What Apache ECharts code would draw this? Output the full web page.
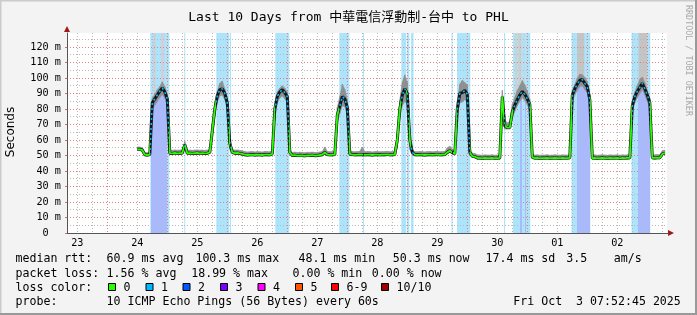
<!DOCTYPE html>
<html><head><meta charset="utf-8">
<script src="https://cdn.jsdelivr.net/npm/echarts@6/dist/echarts.min.js"></script>
<style>html,body{margin:0;padding:0;background:#f3f3f3;overflow:hidden}#c{width:697px;height:315px}</style>
</head><body><div id="c"></div>
<script>
// ---- data (x values are hours since 2025-09-23 00:00 local) ----
const T0 = 7 + 52/60 + 45/3600;          // Sep 23 07:52:45
const T1 = T0 + 240;                     // Oct 3 07:52:45
const firstHour = 36;                    // first sample: Sep 24 12:00, one sample per hour
const median = [
  54,54,53.5,50.5,50.3,50.6,
  84,86.5,89,91.5,93.5,91,86.5,
  51.5,51.3,51.6,51.4,51.5,51.6,57,51.4,51.5,51.3,51.5,51.6,51.4,51.5,51.3,51.5,52,
  66,80,88.5,92.5,93,90,84,58,52,
  51.5,51.6,51.3,51,50.5,50.3,50.4,50.6,50.3,50.5,50.4,50.3,50.6,50.5,50.4,51,
  80,88,91,92.4,90.5,88,52,
  50,50.2,49.9,50.1,50,49.8,50.1,50,50.2,49.9,50,50.3,50.5,52,50.6,50.4,50.5,50.6,
  76,82,88,86.5,81,51,
  50.6,50.4,50.5,50.7,50.5,50.4,50.6,50.5,50.3,50.5,50.6,50.4,50.5,50.5,50.7,50.4,50.5,50.6,
  60,
  80,89,93,90,60,52,
  50.5,50.4,50.6,50.5,50.3,50.5,50.6,50.4,50.5,50.7,50.4,50.5,50.6,52,53,52,51,
  80,90,90.5,92,89.5,52,
  49.5,49.3,48.4,48.3,48.2,48.4,48.3,48.3,48.5,48.2,48.3,48.4,
  88,69,68,68,78,82.5,86,89,91.3,89.5,86.5,83,
  48.8,48.3,48.4,48.2,48.3,48.3,48.5,48.2,48.3,48.4,48.3,48.2,48.4,48.3,48.3,48.5,
  89,93,96,98.5,99,96.5,94.5,86,
  48.3,48.4,48.2,48.3,48.5,48.3,48.2,48.4,48.3,48.3,48.5,48.2,48.4,48.3,48.4,48.5,
  82,88,91.3,94,96.5,93,89,84,
  48.5,48.4,48.6,48.5,51,51.5
];
const smokeUp = [
  1.5,1.5,1.5,1.5,1.5,1.5,
  3,3,3.5,3,4,3.5,3,
  2,2,2,2,2,2,2,2,2,2,2,2,2,2,2,2,2,
  4,4,3,4,5,3,3,3,2,
  2,2,2,2,2,2,2,2,2,2,2,2,2,2,2,2,
  3,3,2.5,2.5,3,3,2,
  2,2,2,2,2,2,2,2,2,2,2,2,2,3.5,2,2,2,2,
  5,6,8,6,5,2,
  2,2,2,2,5,2,2,2,2,2,2,2,2,2,2,2,2,2,
  4,
  6,8,9,7,8,2,
  2,2,2,2,2,2,2,2,2,2,2,2,2,3,3,2,2,
  5,6,8,5,6,2,
  2,2,2,2,2,2,2,2,2,2,2,2,
  4,4,3,4,5,5,6,6,7,6,5,3,
  2,2,2,2,2,2,2,2,2,2,2,2,2,2,2,2,
  3,3,4,4,3,4,3,3,
  2,2,2,2,2,2,2,2,2,2,2,2,2,2,2,2,
  3,3,4,5,4,4,3,3,
  2,2,2,2,2,2
];
const smokeDown = [
  0.8,0.8,0.8,0.8,0.8,0.8,
  4,4,4,4,4,4,4,
  0.8,0.8,0.8,0.8,0.8,0.8,3,0.8,0.8,0.8,0.8,0.8,0.8,0.8,0.8,0.8,0.8,
  6,5,4,4,4,4,4,4,1,
  0.8,0.8,0.8,0.8,0.8,0.8,0.8,0.8,0.8,0.8,0.8,0.8,0.8,0.8,0.8,0.8,
  5,4,4,4,4,4,1,
  0.8,0.8,0.8,0.8,0.8,0.8,0.8,0.8,0.8,0.8,0.8,0.8,0.8,0.8,0.8,0.8,0.8,0.8,
  5,5,6,5,5,1,
  0.8,0.8,0.8,0.8,0.8,0.8,0.8,0.8,0.8,0.8,0.8,0.8,0.8,0.8,0.8,0.8,0.8,0.8,
  5,
  6,7,8,7,6,1,
  0.8,0.8,0.8,0.8,0.8,0.8,0.8,0.8,0.8,0.8,0.8,0.8,0.8,1,1,1,0.8,
  5,6,6,6,5,1,
  0.8,0.8,0.8,0.8,0.8,0.8,0.8,0.8,0.8,0.8,0.8,0.8,
  5,2,1,1,4,4,4,4,4,4,4,4,
  0.8,0.8,0.8,0.8,0.8,0.8,0.8,0.8,0.8,0.8,0.8,0.8,0.8,0.8,0.8,0.8,
  4,4,4,4,4,4,4,4,
  0.8,0.8,0.8,0.8,0.8,0.8,0.8,0.8,0.8,0.8,0.8,0.8,0.8,0.8,0.8,0.8,
  4,4,4,4,4,4,4,4,
  0.8,0.8,0.8,0.8,0.8,0.8
];
// periods with packet loss (hours): light-blue background
const lossBands = [[41.2,48.8],[54.8,55.2],[67.6,72.8],[73.1,73.5],[91.2,96.8],[116.8,120.8],[126.3,126.7],
  [141.6,143.6],[143.9,144.8],[145.5,146.5],[161.7,162.1],[163.9,169.2],[182.7,183.1],[186.3,193.2],
  [209.7,217.2],[233.7,241.2]];
// periods with 2/10 loss: fill under the median
const loss2Zones = [[41.6,48.0],[189.2,189.8],[191.2,191.5],[211.9,217.2],[236.3,241.2]];
// smoke reaching the top inside loss periods: [from, to, lowest value, colour]
const grayTops = [[42.3,43.3,86,'#cbd0dc'],[45.5,46.8,93,'#cfd0dc'],[187.2,188.0,88,'#cfcfcf'],[188.4,189.6,90,'#cdcdcd'],
  [190.4,190.8,92,'#d2d2d2'],[211.9,214.8,60,'#c4c4c4'],[236.5,239.9,60,'#c4c4c4']];
const dayLabels = ['23','24','25','26','27','28','29','30','01','02'];
const dayLabelHours = [12,36,60,84,108,132,156,180,204,228];
const midnightHours = [24,48,72,96,120,144,168,192,216,240];
const quarterHours = [12,18,30,36,42,54,60,66,78,84,90,102,108,114,126,132,138,150,156,162,174,180,186,198,204,210,222,228,234,246];
const yMajor = [0,10,20,30,40,50,60,70,80,90,100,110,120];
const yMinor = [5,15,25,35,45,55,65,75,85,95,105,115,125];
const yMax = 129;
const rttLabel = 'median rtt:';
const rttStats = ['60.9 ms avg','100.3 ms max','48.1 ms min','50.3 ms now','17.4 ms sd','3.5','am/s'];
const lossLabel = 'packet loss:';
const lossStats = ['1.56 % avg','18.99 % max','0.00 % min','0.00 % now'];
const lossColorLabel = 'loss color:';
const lossNames = ['0','1','2','3','4','5','6-9','10/10'];
const lossColors = ['#26ff00','#00b8ff','#0059ff','#7e00ff','#ff00ff','#ff5500','#ff0000','#a10000'];
const probeLabel = 'probe:';
const probeText = '10 ICMP Echo Pings (56 Bytes) every 60s';
const stamp = 'Fri Oct  3 07:52:45 2025';
const titleText = 'Last 10 Days from 中華電信浮動制-台中 to PHL';

// ---- layout ----
const rttX = [106.6,195.4,298.5,392.8,485.5,566.2,613.8];
const lossX = [106.6,191.2,292.5,371.8];
const swatchX = [108,145.5,182.5,220,257.5,295,331,381];
const MONO = '"DejaVu Sans Mono","Noto Sans CJK TC",monospace';
const LEG = '11.6px ' + MONO;

const hours = median.map((_, i) => firstHour + i);
const medPts = hours.map((h, i) => [h, median[i]]);
const smokeHi = median.map((m, i) => m + smokeUp[i]);
const smokeLo = median.map((m, i) => m - smokeDown[i]);
// one quad per interval: [x0, hi0, lo0, x1, hi1, lo1]
const smokeSegs = hours.slice(0, -1).map((h, i) => [h, smokeHi[i], smokeLo[i], hours[i + 1], smokeHi[i + 1], smokeLo[i + 1]]);
const pieces = (zones, color) => zones.map(z => ({gte: z[0], lt: z[1], color}));

const chart = echarts.init(document.getElementById('c'), null, {renderer: 'canvas'});
const txt = (text, x, y, extra) => Object.assign({type: 'text', x, y, silent: true,
  style: Object.assign({text, font: LEG, fill: '#000', align: 'left', verticalAlign: 'middle'}, extra || {})});

const graphic = [
  {type: 'rect', shape: {x: 0, y: 0, width: 697, height: 315}, style: {fill: '#f3f3f3'}, silent: true, z: -10},
  {type: 'line', shape: {x1: 0, y1: 0.5, x2: 697, y2: 0.5}, style: {stroke: '#cbcbcb', lineWidth: 2}, silent: true},
  {type: 'line', shape: {x1: 0.5, y1: 0, x2: 0.5, y2: 315}, style: {stroke: '#cbcbcb', lineWidth: 2}, silent: true},
  {type: 'line', shape: {x1: 0, y1: 314, x2: 697, y2: 314}, style: {stroke: '#999', lineWidth: 2}, silent: true},
  {type: 'line', shape: {x1: 696, y1: 0, x2: 696, y2: 315}, style: {stroke: '#999', lineWidth: 2}, silent: true},
  {type: 'polygon', shape: {points: [[64, 32], [70, 32], [67, 26]]}, style: {fill: '#a01818'}, silent: true, z: 50},
  {type: 'polygon', shape: {points: [[668, 230], [668, 236], [674, 233]]}, style: {fill: '#a01818'}, silent: true, z: 50},
  {type: 'line', shape: {x1: 667, y1: 233.5, x2: 669, y2: 233.5}, style: {stroke: '#555', lineWidth: 1}, silent: true, z: 50},
  txt('Seconds', 11, 132, {font: '12px "DejaVu Sans"', align: 'center'}),
  txt('RRDTOOL / TOBI OETIKER', 688, 5, {font: '8.4px "DejaVu Sans Mono"', fill: '#a8a8a8'}),
  txt(rttLabel, 15.5, 259), txt(lossLabel, 15.5, 273.5), txt(lossColorLabel, 15.5, 287.5), txt(probeLabel, 15.5, 301.5),
  txt(probeText, 106.6, 301.5), txt(stamp, 680.8, 301.5, {align: 'right'})
];
graphic[8].rotation = Math.PI / 2;
graphic[9].rotation = -Math.PI / 2;
rttStats.forEach((s, i) => graphic.push(txt(s, rttX[i], 259)));
lossStats.forEach((s, i) => graphic.push(txt(s, lossX[i], 273.5)));
lossNames.forEach((s, i) => {
  graphic.push({type: 'rect', shape: {x: swatchX[i] + 0.5, y: 283.5, width: 7, height: 7},
    style: {fill: lossColors[i], stroke: '#000', lineWidth: 1}, silent: true});
  graphic.push(txt(s, swatchX[i] + 15.5, 287.5));
});

const grid = {left: 67, top: 33, width: 600, height: 200, show: true, backgroundColor: '#ffffff', borderWidth: 0};
const option = {
  animation: false,
  backgroundColor: '#f3f3f3',
  title: {text: titleText, left: 'center', top: 6, textStyle: {fontFamily: MONO, fontSize: 13, fontWeight: 'normal', color: '#000'}},
  grid,
  xAxis: [
    {type: 'value', min: T0, max: T1, z: 1,
      axisLine: {show: true, lineStyle: {color: '#555', width: 1}},
      axisTick: {show: false, customValues: quarterHours},
      splitLine: {show: true, lineStyle: {color: '#b9b9b9', type: [1, 2], width: 1}},
      axisLabel: {customValues: dayLabelHours, margin: 5, fontFamily: MONO, fontSize: 10.2, color: '#000',
        formatter: v => dayLabels[dayLabelHours.indexOf(Math.round(v))] || ''}},
    {type: 'value', min: T0, max: T1, z: 1, position: 'bottom',
      axisLine: {show: false}, axisLabel: {show: false},
      axisTick: {show: false, customValues: midnightHours},
      splitLine: {show: true, lineStyle: {color: '#e08080', type: [1, 2], width: 1}}}
  ],
  yAxis: [
    {type: 'value', min: 0, max: yMax, z: 1,
      axisLine: {show: true, lineStyle: {color: '#555', width: 1}},
      axisTick: {show: true, length: 2, customValues: yMajor, lineStyle: {color: '#d07070'}},
      splitLine: {show: true, lineStyle: {color: '#e08080', type: [1, 2], width: 1}},
      axisLabel: {customValues: yMajor, margin: 6, fontFamily: MONO, fontSize: 10.2, color: '#000',
        formatter: v => v === 0 ? '0\u00a0\u00a0' : v + ' m'}},
    {type: 'value', min: 0, max: yMax, z: 1,
      axisLine: {show: false}, axisLabel: {show: false},
      axisTick: {show: false, customValues: yMinor},
      splitLine: {show: true, lineStyle: {color: '#b9b9b9', type: [1, 2], width: 1}}}
  ],
  visualMap: [
    {type: 'piecewise', show: false, seriesIndex: 1, dimension: 0, pieces: pieces(loss2Zones, '#a9b9fa'), outOfRange: {color: 'rgba(0,0,0,0)'}},
    {type: 'piecewise', show: false, seriesIndex: 4, dimension: 0, pieces: pieces(lossBands, 'rgba(0,0,0,0)'), outOfRange: {color: '#26ff00'}},
    {type: 'piecewise', show: false, seriesIndex: 5, dimension: 0, pieces: pieces(lossBands, '#00b8ff'), outOfRange: {color: 'rgba(0,0,0,0)'}}
  ],
  series: [
    {type: 'line', data: [], z: 0, silent: true,
      markArea: {silent: true, z: 0, data: [
        ...lossBands.map(b => [{xAxis: b[0], itemStyle: {color: '#abe4fb'}}, {xAxis: b[1]}]),
        ...grayTops.map(g => [{xAxis: g[0], yAxis: g[2], itemStyle: {color: g[3]}}, {xAxis: g[1], yAxis: yMax}])
      ]}},
    {type: 'line', data: medPts, showSymbol: false, z: 2, silent: true, lineStyle: {width: 0}, areaStyle: {opacity: 1}},
    {type: 'custom', data: smokeSegs, z: 3, silent: true, encode: {x: [0, 3], y: [1, 2, 4, 5]},
      renderItem: (params, api) => {
        const pts = [api.coord([api.value(0), api.value(1)]), api.coord([api.value(3), api.value(4)]),
                     api.coord([api.value(3), api.value(5)]), api.coord([api.value(0), api.value(2)])];
        return {type: 'polygon', shape: {points: pts}, style: {fill: '#8e8e8e', stroke: '#8e8e8e', lineWidth: 0.6}};
      }},
    {type: 'line', data: medPts, showSymbol: false, z: 4, silent: true, lineStyle: {width: 3, color: '#151515'}},
    {type: 'line', data: medPts, showSymbol: false, z: 5, silent: true, lineStyle: {width: 1.8}},
    {type: 'line', data: medPts, showSymbol: false, z: 6, silent: true, lineStyle: {width: 1.6, type: [2, 3]}}
  ],
  graphic
};
chart.setOption(option);
</script></body></html>
